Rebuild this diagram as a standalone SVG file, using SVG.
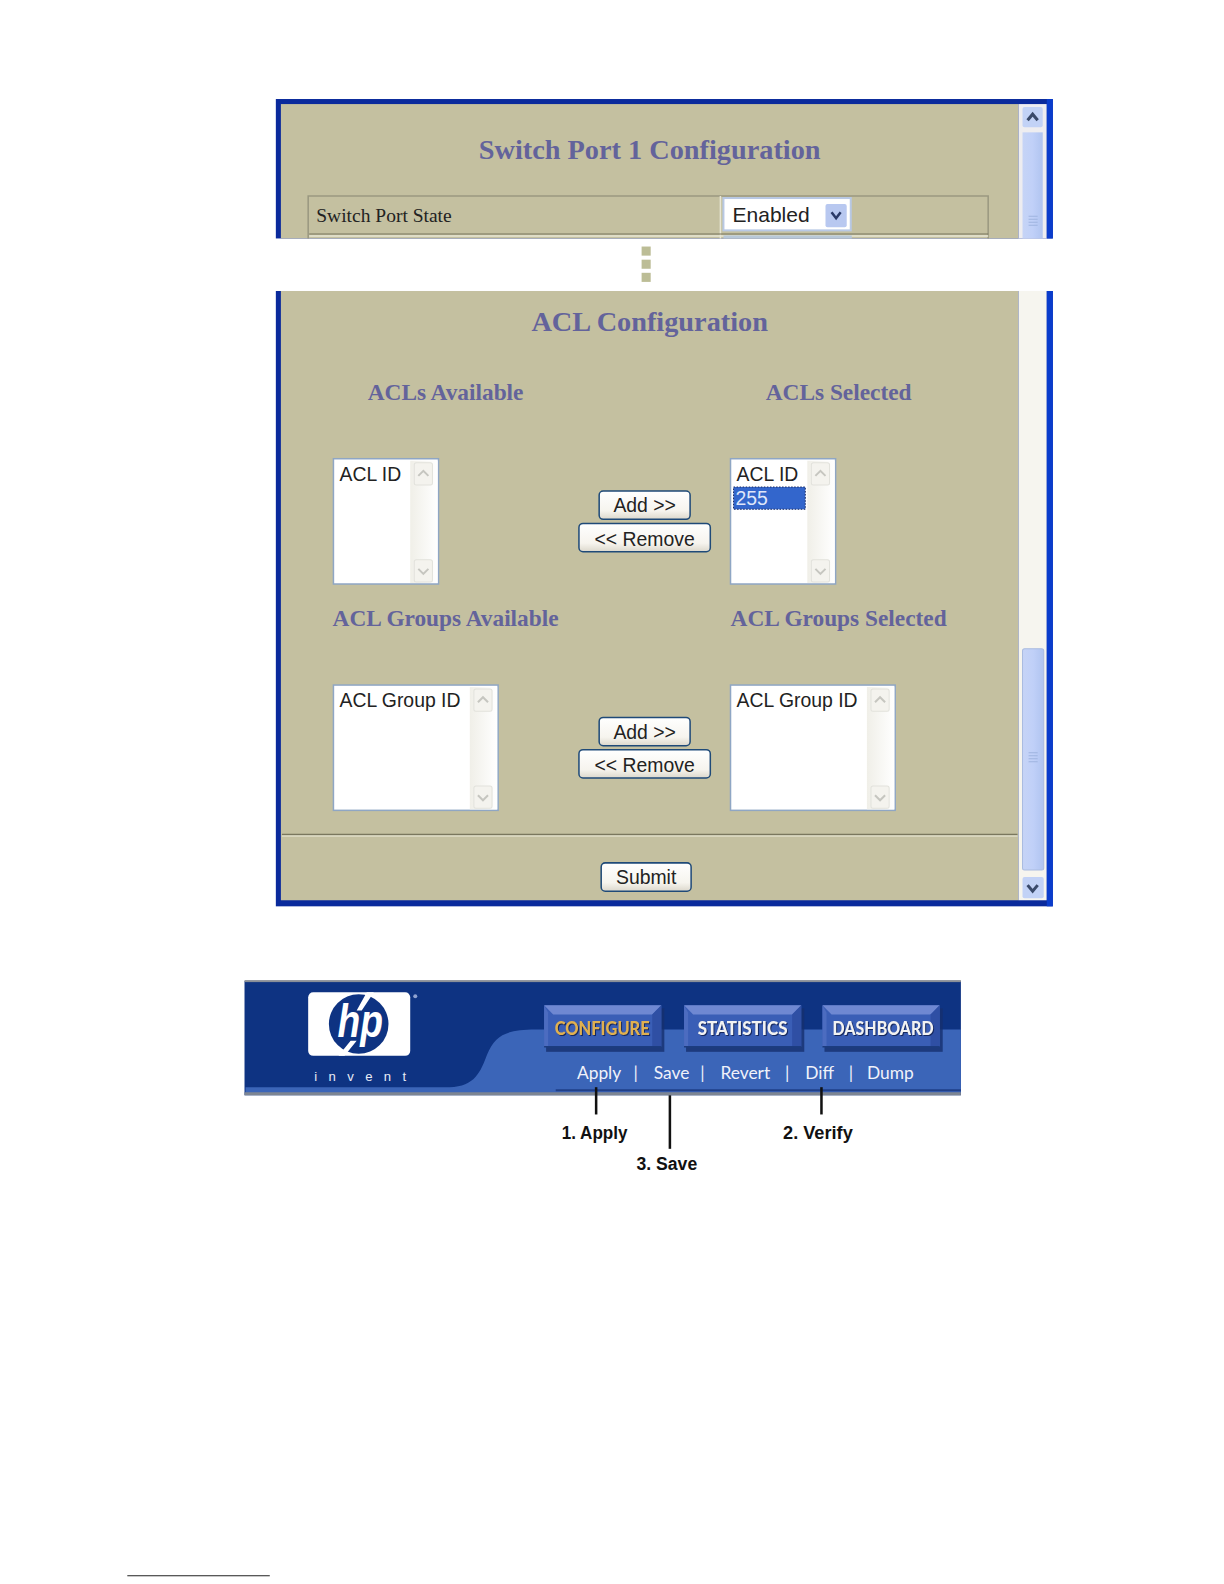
<svg xmlns="http://www.w3.org/2000/svg" width="1224" height="1584" viewBox="0 0 1224 1584">
<defs>
<linearGradient id="thumb" x1="0" x2="1" y1="0" y2="0"><stop offset="0" stop-color="#c6d4f6"/><stop offset="0.5" stop-color="#c0d0f8"/><stop offset="1" stop-color="#b0c4f0"/></linearGradient>
<linearGradient id="btn" x1="0" x2="0" y1="0" y2="1"><stop offset="0" stop-color="#ffffff"/><stop offset="0.7" stop-color="#f6f4ee"/><stop offset="1" stop-color="#dcd8cc"/></linearGradient>
<linearGradient id="track" x1="0" x2="1" y1="0" y2="0"><stop offset="0" stop-color="#f0efe8"/><stop offset="1" stop-color="#ffffff"/></linearGradient>
<g id="up"><rect x="-9" y="-11" width="18" height="22" rx="2" fill="#f4f3ee" stroke="#e2e2dc"/><path d="M-5 2 L0 -3 L5 2" fill="none" stroke="#c6c6c0" stroke-width="2"/></g>
<g id="dn"><rect x="-9" y="-11" width="18" height="22" rx="2" fill="#f4f3ee" stroke="#e2e2dc"/><path d="M-5 -2 L0 3 L5 -2" fill="none" stroke="#c6c6c0" stroke-width="2"/></g>
<g id="tabshape">
<rect x="2" y="3" width="117" height="43" fill="#16306e" opacity="0.8"/>
<rect x="0" y="0" width="116" height="41" fill="#3a5eb6"/>
<path d="M0 0H116L107 9H9Z" fill="#6f88d2"/>
<path d="M116 0V41H107V9Z" fill="#2f4fa4"/>
<path d="M0 0V41H4V7Z" fill="#4c6cc0"/>
<path d="M0 41H116" stroke="#1c3c80" stroke-width="1.500"/>
</g>
</defs>
<style>
.h{font-family:"Liberation Serif",serif;font-weight:bold;fill:#63639b}
.h1{font-size:28px}
.h2{font-size:23.100px}
.ui{font-family:"Liberation Sans",sans-serif;font-size:19.200px;fill:#222}
.box{fill:#fff;stroke:#8fa6c4;stroke-width:1.500}
.b{fill:url(#btn);stroke:#1f4a78;stroke-width:1.500}
.nav{font-family:"Lato","Liberation Sans",sans-serif;font-weight:900;font-size:18px;fill:#f2f2f2;filter:drop-shadow(1px 1px 0 #16285e)}
.sub{font-family:"Lato","Liberation Sans",sans-serif;font-size:17.200px;fill:#f0f2fa}
.call{font-family:"Liberation Sans",sans-serif;font-weight:bold;font-size:18.500px;fill:#111}
.grip{stroke:#9fb4e0;stroke-width:1}
.ln{stroke:#111;stroke-width:2.500}
.sq{fill:#bcbd96}
</style>

<g transform="scale(1.0104)">
<g id="top-panel">
<rect x="273" y="98" width="769" height="138" fill="#0a2a9c"/>
<rect x="278" y="103" width="730" height="133" fill="#c4c0a0"/>
<rect x="1008" y="103" width="28" height="133" fill="#eeedf0"/>
<rect x="1036" y="98" width="6" height="138" fill="#0a3ccc"/>
<rect x="1012" y="106" width="20" height="20" rx="2" fill="#c2d2f6"/>
<path d="M1017 119 L1022 113 L1027 119" fill="none" stroke="#3a4a6a" stroke-width="3"/>
<rect x="1012" y="131" width="20" height="105" fill="url(#thumb)"/>
<path class="grip" d="M1018 214H1027M1018 217H1027M1018 220H1027M1018 223H1027" fill="none"/>
<text class="h h1" x="643" y="157" text-anchor="middle">Switch Port 1 Configuration</text>
<path d="M305 236V194H978V236" fill="none" stroke="#9a9880" stroke-width="1.500"/>
<path d="M713 194V236M306 233.500H978" fill="none" stroke="#e8e6d4" stroke-width="1.500"/>
<path d="M306 231.500H978" fill="none" stroke="#77745c" stroke-width="1"/>
<text x="313" y="220" font-family="Liberation Serif, serif" font-size="19.300" fill="#222">Switch Port State</text>
<rect x="716" y="196" width="126" height="32" fill="#fff" stroke="#b8c8e4" stroke-width="2"/>
<text class="ui" x="725" y="220" style="font-size:20.800px">Enabled</text>
<rect x="817" y="202" width="21" height="23" rx="2" fill="#b8c8f0"/>
<path d="M823 210 L827.500 216 L832 210" fill="none" stroke="#2a3a68" stroke-width="2.500"/>
<rect x="716" y="233" width="127" height="3" fill="#b8c8d8"/>
</g>

<g id="ellipsis">
<rect class="sq" x="635" y="244" width="9" height="9"/>
<rect class="sq" x="635" y="257" width="9" height="9"/>
<rect class="sq" x="635" y="270" width="9" height="9"/>
</g>

<g id="bottom-panel">
<rect x="273" y="288" width="769" height="609" fill="#0a2a9c"/>
<rect x="278" y="288" width="730" height="603" fill="#c4c0a0"/>
<rect x="1008" y="288" width="28" height="603" fill="#f6f5ef"/>
<rect x="1036" y="288" width="6" height="609" fill="#0a3ccc"/>
<rect x="1012" y="642" width="21" height="219" rx="2" fill="url(#thumb)" stroke="#a9bbe0"/>
<path class="grip" d="M1018 745H1027M1018 748H1027M1018 751H1027M1018 754H1027" fill="none"/>
<rect x="1012" y="868" width="21" height="21" rx="2" fill="#c2d2f6"/>
<path d="M1017 876 L1022 882 L1027 876" fill="none" stroke="#3a4a6a" stroke-width="3"/>
<path d="M279 826H1007" stroke="#7a775e" stroke-width="1.500"/>
<path d="M279 827.500H1007" stroke="#eeecdc" stroke-width="1"/>
<text class="h h1" x="643" y="328" text-anchor="middle">ACL Configuration</text>
</g>

<g id="acls-available">
<text class="h h2" x="441" y="396" text-anchor="middle">ACLs Available</text>
<rect class="box" x="330" y="454" width="104" height="124"/>
<rect x="406" y="456" width="27" height="121" fill="url(#track)"/>
<use href="#up" x="419" y="469"/><use href="#dn" x="419" y="565"/>
<text class="ui" x="336" y="476">ACL ID</text>
</g>

<g id="acls-selected">
<text class="h h2" x="830" y="396" text-anchor="middle">ACLs Selected</text>
<rect class="box" x="723" y="454" width="104" height="124"/>
<rect x="799" y="456" width="27" height="121" fill="url(#track)"/>
<use href="#up" x="812" y="469"/><use href="#dn" x="812" y="565"/>
<text class="ui" x="729" y="476">ACL ID</text>
<rect x="726" y="482" width="71" height="22" fill="#3366cc" stroke="#1a2a60" stroke-dasharray="1.500 1.500"/>
<text class="ui" x="728" y="500" style="fill:#dfe6fa">255</text>
</g>

<g id="acl-buttons">
<rect class="b" x="593" y="486" width="90" height="28" rx="4"/>
<text class="ui" x="638" y="507" text-anchor="middle">Add &gt;&gt;</text>
<rect class="b" x="573" y="518" width="130" height="28" rx="4"/>
<text class="ui" x="638" y="540" text-anchor="middle">&lt;&lt; Remove</text>
</g>

<g id="groups-available">
<text class="h h2" x="441" y="620" text-anchor="middle">ACL Groups Available</text>
<rect class="box" x="330" y="678" width="163" height="124"/>
<rect x="465" y="680" width="27" height="121" fill="url(#track)"/>
<use href="#up" x="478" y="693"/><use href="#dn" x="478" y="789"/>
<text class="ui" x="336" y="700">ACL Group ID</text>
</g>

<g id="groups-selected">
<text class="h h2" x="830" y="620" text-anchor="middle">ACL Groups Selected</text>
<rect class="box" x="723" y="678" width="163" height="124"/>
<rect x="858" y="680" width="27" height="121" fill="url(#track)"/>
<use href="#up" x="871" y="693"/><use href="#dn" x="871" y="789"/>
<text class="ui" x="729" y="700">ACL Group ID</text>
</g>

<g id="group-buttons">
<rect class="b" x="593" y="710" width="90" height="28" rx="4"/>
<text class="ui" x="638" y="731" text-anchor="middle">Add &gt;&gt;</text>
<rect class="b" x="573" y="742" width="130" height="28" rx="4"/>
<text class="ui" x="638" y="764" text-anchor="middle">&lt;&lt; Remove</text>
</g>

<g id="submit">
<rect class="b" x="595" y="854" width="89" height="28" rx="4"/>
<text class="ui" x="639.500" y="875" text-anchor="middle">Submit</text>
</g>

<g id="hp-banner">
<rect x="242" y="971" width="709" height="113" fill="#0e3382"/>
<path d="M243 1076H445C470 1076 476 1060 482 1044C490 1024 502 1019 530 1019H951V1083H243Z" fill="#3b65b8"/>
<path d="M550 1079H951" stroke="#1f3f88" stroke-width="2"/>
<rect x="242" y="1081" width="709" height="3" fill="#7d8592"/>
<rect x="242" y="970" width="709" height="2" fill="#8a8f98"/>
</g>

<g id="hp-logo">
<rect x="305" y="982" width="101" height="63" rx="5" fill="#fff"/>
<circle cx="355" cy="1013.500" r="29.500" fill="#0e3382"/>
<path d="M363 982H370L358 1000H353ZM347 1030H353L341 1045H335Z" fill="#fff"/>
<text x="334" y="1026" font-family="Liberation Sans, sans-serif" font-style="italic" font-weight="bold" font-size="46" fill="#fff" textLength="45" lengthAdjust="spacingAndGlyphs">hp</text>
<circle cx="411" cy="986" r="2" fill="#8fa2d0"/>
<text x="311" y="1070" font-family="Liberation Sans, sans-serif" font-size="13" fill="#e8ecf6" textLength="91">invent</text>
</g>

<g id="tab-configure">
<use href="#tabshape" x="538.500" y="995"/>
<text class="nav" x="596" y="1024" text-anchor="middle" style="fill:#e0b050" textLength="94" lengthAdjust="spacingAndGlyphs">CONFIGURE</text>
</g>
<g id="tab-statistics">
<use href="#tabshape" x="677" y="995"/>
<text class="nav" x="735" y="1024" text-anchor="middle" textLength="89" lengthAdjust="spacingAndGlyphs">STATISTICS</text>
</g>
<g id="tab-dashboard">
<use href="#tabshape" x="814" y="995"/>
<text class="nav" x="874" y="1024" text-anchor="middle" textLength="100" lengthAdjust="spacingAndGlyphs">DASHBOARD</text>
</g>

<g id="sub-menu">
<text class="sub" x="571" y="1068">Apply</text>
<text class="sub" x="627" y="1068">|</text>
<text class="sub" x="647" y="1068">Save</text>
<text class="sub" x="693" y="1068">|</text>
<text class="sub" x="713" y="1068">Revert</text>
<text class="sub" x="777" y="1068">|</text>
<text class="sub" x="797" y="1068">Diff</text>
<text class="sub" x="840" y="1068">|</text>
<text class="sub" x="858" y="1068">Dump</text>
</g>

<g id="connectors">
<path class="ln" d="M590 1076V1103"/>
<path class="ln" d="M663 1084V1137"/>
<path class="ln" d="M813 1076V1103"/>
</g>

<g id="label-apply"><text class="call" x="556" y="1127" textLength="65" lengthAdjust="spacingAndGlyphs">1. Apply</text></g>
<g id="label-verify"><text class="call" x="775" y="1127" textLength="69" lengthAdjust="spacingAndGlyphs">2. Verify</text></g>
<g id="label-save"><text class="call" x="630" y="1158" textLength="60" lengthAdjust="spacingAndGlyphs">3. Save</text></g>

<g id="footnote-rule"><path d="M126 1559.500H267" stroke="#222" stroke-width="1"/></g>
</g>
</svg>
